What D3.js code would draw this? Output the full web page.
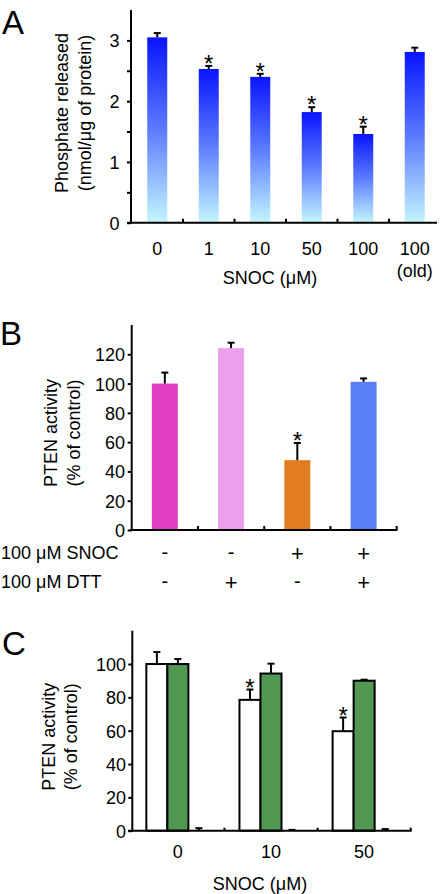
<!DOCTYPE html>
<html><head><meta charset="utf-8">
<script src="https://cdn.jsdelivr.net/npm/d3@7"></script>
<style>
html,body{margin:0;padding:0;background:#fff;}
svg{display:block;}
text{font-family:"Liberation Sans",Arial,Helvetica,sans-serif;fill:#000;}
</style></head><body>
<svg id="chart" width="441" height="894"></svg>
<script>
// ---------- Panel A data ----------
const catsA = ["0","1","10","50","100","100 (old)"];
const labelsA = [["0"],["1"],["10"],["50"],["100"],["100","(old)"]];
const valsA = [3.05, 2.53, 2.40, 1.82, 1.46, 2.81];
const errsA = [0.07, 0.05, 0.05, 0.08, 0.12, 0.07];
const starA = [false, true, true, true, true, false];
const ticksA = [0, 0.5, 1, 1.5, 2, 2.5, 3];
const tickLabelsA = [0, 1, 2, 3];

// ---------- Panel B data ----------
const catsB = ["ctrl","DTT","SNOC","SNOC+DTT"];
const valsB = [100, 124.2, 47.7, 101.2];
const errsB = [7.5, 3.7, 11.7, 2.3];
const starB = [false, false, true, false];
const colorsB = ["#e03fc3", "#eaa0ea", "#e27d1f", "#5b7ff7"];
const snocRow = ["-", "-", "+", "+"];
const dttRow = ["-", "+", "-", "+"];
const ticksB = [0, 20, 40, 60, 80, 100, 120];

// ---------- Panel C data ----------
const catsC = ["0","10","50"];
const seriesC = ["white","green","third"];
const valsWhite = [100, 78.5, 59.7];
const errsWhite = [7.2, 6.2, 8.2];
const valsGreen = [100, 94.3, 90];
const errsGreen = [3.0, 5.9, 0.6];
const valsThird = [0, 0, 0];
const errsThird = [1.5, 0.5, 1.0];
const starWhite = [false, true, true];
const ticksC = [0, 20, 40, 60, 80, 100];

const svg = d3.select("#chart");
const FONT = 18;

function errBar(g, cx, yTop, yBase, capW){
  g.append("line").attr("x1",cx).attr("x2",cx).attr("y1",yBase).attr("y2",yTop)
    .attr("stroke","#000").attr("stroke-width",2);
  g.append("line").attr("x1",cx-capW/2).attr("x2",cx+capW/2).attr("y1",yTop).attr("y2",yTop)
    .attr("stroke","#000").attr("stroke-width",2);
}
function star(g, cx, yTop){
  g.append("text").attr("x",cx).attr("y",yTop+6).attr("text-anchor","middle")
    .attr("font-size",24).text("*");
}
function sign(g, cx, cy, s){
  if(s==="+"){
    g.append("text").attr("x",cx).attr("y",cy+7.5).attr("text-anchor","middle").attr("font-size",22).text("+");
  } else {
    g.append("text").attr("x",cx).attr("y",cy+5.2).attr("text-anchor","middle").attr("font-size",20).text("-");
  }
}
function yAxis(g, y, x0, tickVals, labelVals, topVal, labelX){
  const ax = d3.axisLeft(y).tickValues(tickVals).tickSize(4)
    .tickFormat(d => labelVals.includes(d) ? d3.format("d")(d) : "");
  const ag = g.append("g").attr("transform",`translate(${x0},0)`).call(ax);
  ag.select(".domain").remove();
  ag.selectAll(".tick line").attr("stroke","#000").attr("stroke-width",2);
  ag.selectAll(".tick text").attr("font-size",FONT).attr("x",-(x0-labelX)).attr("dy","0.36em")
    .attr("font-family",'"Liberation Sans",Arial,sans-serif');
  g.append("line").attr("x1",x0).attr("x2",x0).attr("y1",y(0)+1).attr("y2",y(topVal))
    .attr("stroke","#000").attr("stroke-width",2);
}
function yTitle(g, lines, xs, cy){
  lines.forEach((t,i)=>{
    g.append("text").attr("transform",`translate(${xs[i]},${cy}) rotate(-90)`)
      .attr("text-anchor","middle").attr("font-size",FONT).text(t);
  });
}

// ================= Panel A =================
(function(){
  const g = svg.append("g");
  const y = d3.scaleLinear().domain([0,3.5]).range([222.7,10]);
  const pA = 0.612;
  const x = d3.scaleBand().domain(catsA).range([131.5,440.5]).paddingInner(pA).paddingOuter(pA/2);
  const defs = svg.append("defs");
  const grad = defs.append("linearGradient").attr("id","gA").attr("x1",0).attr("y1",0).attr("x2",0).attr("y2",1);
  grad.append("stop").attr("offset","0").attr("stop-color","#0a14ff");
  grad.append("stop").attr("offset","0.5").attr("stop-color","#5c7cff");
  grad.append("stop").attr("offset","1").attr("stop-color","#c4f6ff");

  g.selectAll("rect.bar").data(valsA).join("rect").attr("class","bar")
    .attr("x",(d,i)=>x(catsA[i])).attr("width",x.bandwidth())
    .attr("y",d=>y(d)).attr("height",d=>y(0)-y(d)).attr("fill","url(#gA)");
  valsA.forEach((v,i)=>{
    const cx = x(catsA[i])+x.bandwidth()/2;
    errBar(g, cx, y(v+errsA[i]), y(v), 7);
    if(starA[i]) star(g, cx, y(v+errsA[i]));
  });
  yAxis(g, y, 131, ticksA, tickLabelsA, 3.5, 119.5);
  g.append("line").attr("x1",127).attr("x2",437).attr("y1",y(0)).attr("y2",y(0)).attr("stroke","#000").attr("stroke-width",2);
  const stepA = x.step();
  catsA.slice(1).forEach(c=>{
    const bx = x(c) - stepA*pA/2;
    g.append("line").attr("x1",bx).attr("x2",bx).attr("y1",y(0)).attr("y2",y(0)-4).attr("stroke","#000").attr("stroke-width",2);
  });
  labelsA.forEach((ls,i)=>{
    const cx = x(catsA[i])+x.bandwidth()/2;
    ls.forEach((t,j)=>{
      g.append("text").attr("x",cx).attr("y",255+j*22).attr("text-anchor","middle").attr("font-size",FONT).text(t);
    });
  });
  g.append("text").attr("x",270).attr("y",284).attr("text-anchor","middle").attr("font-size",FONT).text("SNOC (\u03bcM)");
  yTitle(g, ["Phosphate released","(nmol/\u03bcg of protein)"], [67.5,90.5], 113);
  g.append("text").attr("x",2).attr("y",33.5).attr("font-size",33).text("A");
})();

// ================= Panel B =================
(function(){
  const g = svg.append("g");
  const y = d3.scaleLinear().domain([0,140]).range([530,325]);
  const pB = 0.6075;
  const x = d3.scaleBand().domain(catsB).range([131.7,396.7]).paddingInner(pB).paddingOuter(pB/2);
  g.selectAll("rect.bar").data(valsB).join("rect").attr("class","bar")
    .attr("x",(d,i)=>x(catsB[i])).attr("width",x.bandwidth())
    .attr("y",d=>y(d)).attr("height",d=>y(0)-y(d)).attr("fill",(d,i)=>colorsB[i]);
  valsB.forEach((v,i)=>{
    const cx = x(catsB[i])+x.bandwidth()/2;
    errBar(g, cx, y(v+errsB[i]), y(v), 7);
    if(starB[i]) star(g, cx, y(v+errsB[i]));
  });
  yAxis(g, y, 131.7, ticksB, ticksB, 140, 125);
  g.append("line").attr("x1",130).attr("x2",397.5).attr("y1",y(0)).attr("y2",y(0)).attr("stroke","#000").attr("stroke-width",2);
  const stepB = x.step();
  catsB.forEach(c=>{
    const bx = x(c) + x.bandwidth() + stepB*pB/2;
    g.append("line").attr("x1",bx).attr("x2",bx).attr("y1",y(0)).attr("y2",y(0)-4).attr("stroke","#000").attr("stroke-width",2);
  });
  g.append("text").attr("x",1).attr("y",559).attr("font-size",FONT).text("100 \u03bcM SNOC");
  g.append("text").attr("x",1).attr("y",588).attr("font-size",FONT).text("100 \u03bcM DTT");
  catsB.forEach((c,i)=>{
    const cx = x(c)+x.bandwidth()/2;
    sign(g, cx, 553.8, snocRow[i]);
    sign(g, cx, 582.3, dttRow[i]);
  });
  yTitle(g, ["PTEN activity","(% of control)"], [57,79.5], 433);
  g.append("text").attr("x",0).attr("y",345).attr("font-size",33).text("B");
})();

// ================= Panel C =================
(function(){
  const g = svg.append("g");
  const y = d3.scaleLinear().domain([0,120]).range([830.7,630.7]);
  const pC = 0.323;
  const x0 = d3.scaleBand().domain(catsC).range([131.3,410.7]).paddingInner(pC).paddingOuter(pC/2);
  const x1 = d3.scaleBand().domain(seriesC).range([0,x0.bandwidth()]).padding(0);
  const data = [
    {s:"white", v:valsWhite, e:errsWhite, fill:"#ffffff"},
    {s:"green", v:valsGreen, e:errsGreen, fill:"#529752"},
    {s:"third", v:valsThird, e:errsThird, fill:"#000"}
  ];
  data.forEach(ser=>{
    ser.v.forEach((v,i)=>{
      const bx = x0(catsC[i]) + x1(ser.s);
      const cx = bx + x1.bandwidth()/2;
      if(v>0){
        g.append("rect").attr("x",bx).attr("y",y(v)).attr("width",x1.bandwidth()).attr("height",y(0)-y(v))
          .attr("fill",ser.fill).attr("stroke","#000").attr("stroke-width",2);
      }
      errBar(g, cx, y(v+ser.e[i]), y(v), 7);
      if(ser.s==="white" && starWhite[i]) star(g, cx, y(v+ser.e[i]));
    });
  });
  yAxis(g, y, 132.3, ticksC, ticksC, 120, 126);
  g.append("line").attr("x1",128).attr("x2",411.7).attr("y1",y(0)).attr("y2",y(0)).attr("stroke","#000").attr("stroke-width",2);
  const stepC = x0.step();
  catsC.forEach(c=>{
    const bx = x0(c) + x0.bandwidth() + stepC*pC/2;
    g.append("line").attr("x1",bx).attr("x2",bx).attr("y1",y(0)).attr("y2",y(0)-3).attr("stroke","#000").attr("stroke-width",2);
  });
  catsC.forEach(c=>{
    g.append("text").attr("x",x0(c)+x0.bandwidth()/2).attr("y",858).attr("text-anchor","middle").attr("font-size",FONT).text(c);
  });
  g.append("text").attr("x",260).attr("y",889.5).attr("text-anchor","middle").attr("font-size",FONT).text("SNOC (\u03bcM)");
  yTitle(g, ["PTEN activity","(% of control)"], [54.7,76.5], 736.7);
  g.append("text").attr("x",2).attr("y",655).attr("font-size",33).text("C");
})();
</script>
</body></html>
